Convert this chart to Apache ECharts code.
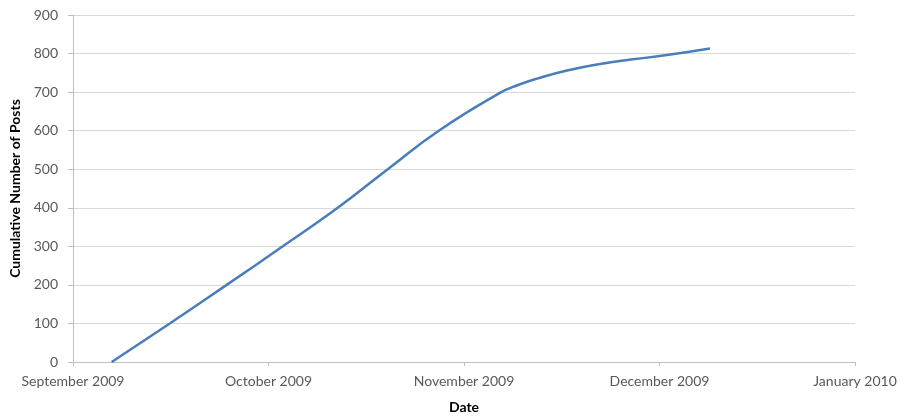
<!DOCTYPE html>
<html>
<head>
<meta charset="utf-8">
<script src="https://cdn.jsdelivr.net/npm/echarts@6/dist/echarts.min.js"></script>
<style>html,body{margin:0;padding:0;background:#fff}#c{width:904px;height:419px}</style>
</head>
<body>
<div id="c"></div>
<script>
// x = months since 1 September 2009
var monthLabels = ["September 2009", "October 2009", "November 2009", "December 2009", "January 2010"];
var xMonths = [0.198, 0.495, 0.786, 1.073, 1.354, 1.610, 1.871, 2.184, 2.280, 2.373, 2.527, 2.696, 2.864, 3.038, 3.258];
var posts   = [0,     100,   200,   300,   400,   500,   600,   698,   719,   735,   756,   773,   785,   796,   813];
var yTicks = [0, 100, 200, 300, 400, 500, 600, 700, 800, 900];

var data = xMonths.map(function (x, i) { return [x, posts[i]]; });
var font = "Lato, 'Open Sans', sans-serif";
var chart = echarts.init(document.getElementById('c'));
chart.setOption({
  animation: false,
  grid: { left: 73, right: 49, top: 15, bottom: 55 },
  xAxis: {
    type: 'value', min: 0, max: 4, interval: 1,
    name: 'Date', nameLocation: 'middle', nameGap: 38,
    nameTextStyle: { fontFamily: font, fontWeight: 'bold', fontSize: 14, color: '#000' },
    axisLine: { lineStyle: { color: '#bfbfbf' } },
    axisTick: { show: true, length: 4, lineStyle: { color: '#bfbfbf' } },
    axisLabel: { fontFamily: font, fontSize: 14, color: '#595959', margin: 12,
      formatter: function (v) { return monthLabels[Math.round(v)]; } },
    splitLine: { show: false }
  },
  yAxis: {
    type: 'value', min: yTicks[0], max: yTicks[yTicks.length - 1], interval: 100,
    name: 'Cumulative Number of Posts', nameLocation: 'middle', nameGap: 47,
    nameTextStyle: { fontFamily: font, fontWeight: 'bold', fontSize: 14, color: '#000' },
    axisLine: { show: true, lineStyle: { color: '#bfbfbf' } },
    axisTick: { show: true, length: 5, lineStyle: { color: '#bfbfbf' } },
    axisLabel: { fontFamily: font, fontSize: 14, color: '#595959', margin: 15 },
    splitLine: { lineStyle: { color: '#d9d9d9', width: 1.2 } }
  },
  series: [{
    type: 'line', data: data, smooth: 0.5, showSymbol: false,
    lineStyle: { color: '#4a7ebb', width: 2.5 }
  }]
});
</script>
</body>
</html>
